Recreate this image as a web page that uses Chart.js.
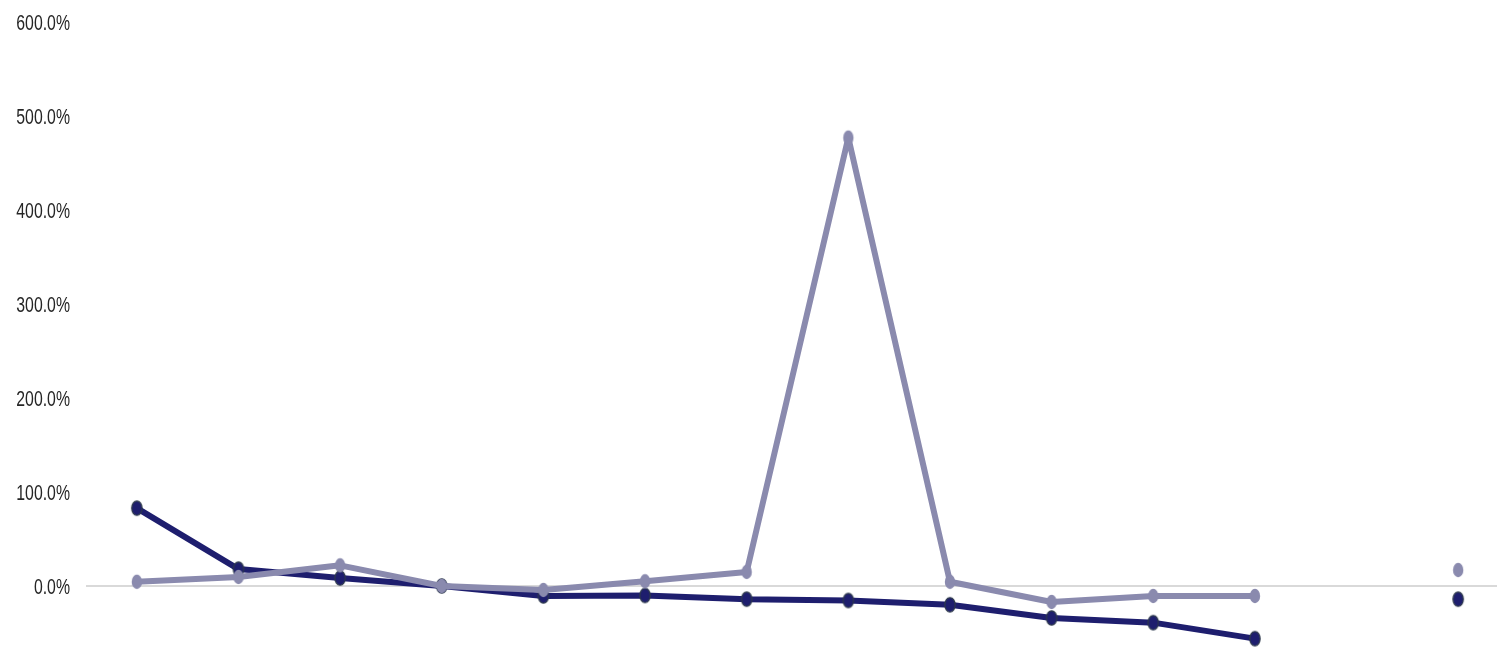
<!DOCTYPE html>
<html>
<head>
<meta charset="utf-8">
<script src="https://cdn.jsdelivr.net/npm/chart.js@4/dist/chart.umd.min.js"></script>
<style>
  html, body { margin: 0; padding: 0; background: #ffffff; overflow: hidden; width: 1497px; height: 663px; }
  #wrap { position: absolute; left: 0; top: 0; width: 1509px; height: 700px; }
</style>
</head>
<body>
<div id="wrap"><canvas id="c" width="1509" height="700"></canvas></div>
<script>
// Categories (no visible labels in the reference)
const categories = ['1','2','3','4','5','6','7','8','9','10','11','12','13','14'];
// Series values (percent)
const seriesDark  = [82.8, 18, 8.5, 0, -10.6, -10, -14, -15.4, -20, -34, -39, -56, null, -14];
const seriesLight = [4.5, 9.6, 22, 0, -4.2, 5, 15, 477, 4.5, -17, -10.6, -10.6, null, 17];
// Y tick settings
const yMin = -100, yMax = 600, yStep = 100;

function ellipse(fill, stroke) {
  const c = document.createElement('canvas');
  c.width = 14; c.height = 18;
  const g = c.getContext('2d');
  g.beginPath();
  g.ellipse(7, 9, 5.2, 7.2, 0, 0, Math.PI * 2);
  g.fillStyle = fill; g.fill();
  if (stroke) { g.lineWidth = 1.2; g.strokeStyle = stroke; g.stroke(); }
  return c;
}
const darkPt = ellipse('#1e1e6e', '#2e3a4c');
const lightPt = ellipse('#8a8aae', null);

// Narrow the tick label glyphs horizontally (reference uses a narrow face)
const narrowLabels = {
  id: 'narrowLabels',
  afterLayout(chart) {
    const s = chart.scales.y;
    if (s._narrowed) return;
    const orig = s.drawLabels.bind(s);
    s.drawLabels = function (area) {
      const ctx = this.ctx;
      const ax = this.right;
      ctx.save();
      ctx.translate(70, 2);
      ctx.scale(0.72, 1);
      ctx.translate(-ax, 0);
      orig(area);
      ctx.restore();
    };
    s._narrowed = true;
  }
};

new Chart(document.getElementById('c'), {
  type: 'line',
  data: {
    labels: categories,
    datasets: [
      { label: 'Dark', data: seriesDark, borderColor: '#1e1e6e', borderWidth: 6, borderJoinStyle: 'round', borderCapStyle: 'round', pointStyle: darkPt, spanGaps: false, tension: 0, order: 2 },
      { label: 'Light', data: seriesLight, borderColor: '#8a8aae', borderWidth: 6, borderJoinStyle: 'round', borderCapStyle: 'round', pointStyle: lightPt, spanGaps: false, tension: 0, order: 1 }
    ]
  },
  plugins: [narrowLabels],
  options: {
    responsive: false,
    devicePixelRatio: 1,
    animation: false,
    layout: { autoPadding: false, padding: { left: 0, right: 0, top: 22, bottom: 20 } },
    plugins: { legend: { display: false }, tooltip: { enabled: false } },
    scales: {
      x: { type: 'category', offset: true, display: false },
      y: {
        min: yMin, max: yMax,
        afterFit: (s) => { s.width = 86; },
        border: { display: false },
        grid: {
          drawTicks: false,
          lineWidth: 2,
          color: (ctx) => (ctx.tick && ctx.tick.value === 0) ? '#d9d9d9' : 'rgba(0,0,0,0)'
        },
        ticks: {
          stepSize: yStep,
          padding: 0,
          color: '#262626',
          font: { family: "'Liberation Sans', Arial, sans-serif", size: 22 },
          callback: (v) => v.toFixed(1) + '%'
        }
      }
    }
  }
});
</script>
</body>
</html>
